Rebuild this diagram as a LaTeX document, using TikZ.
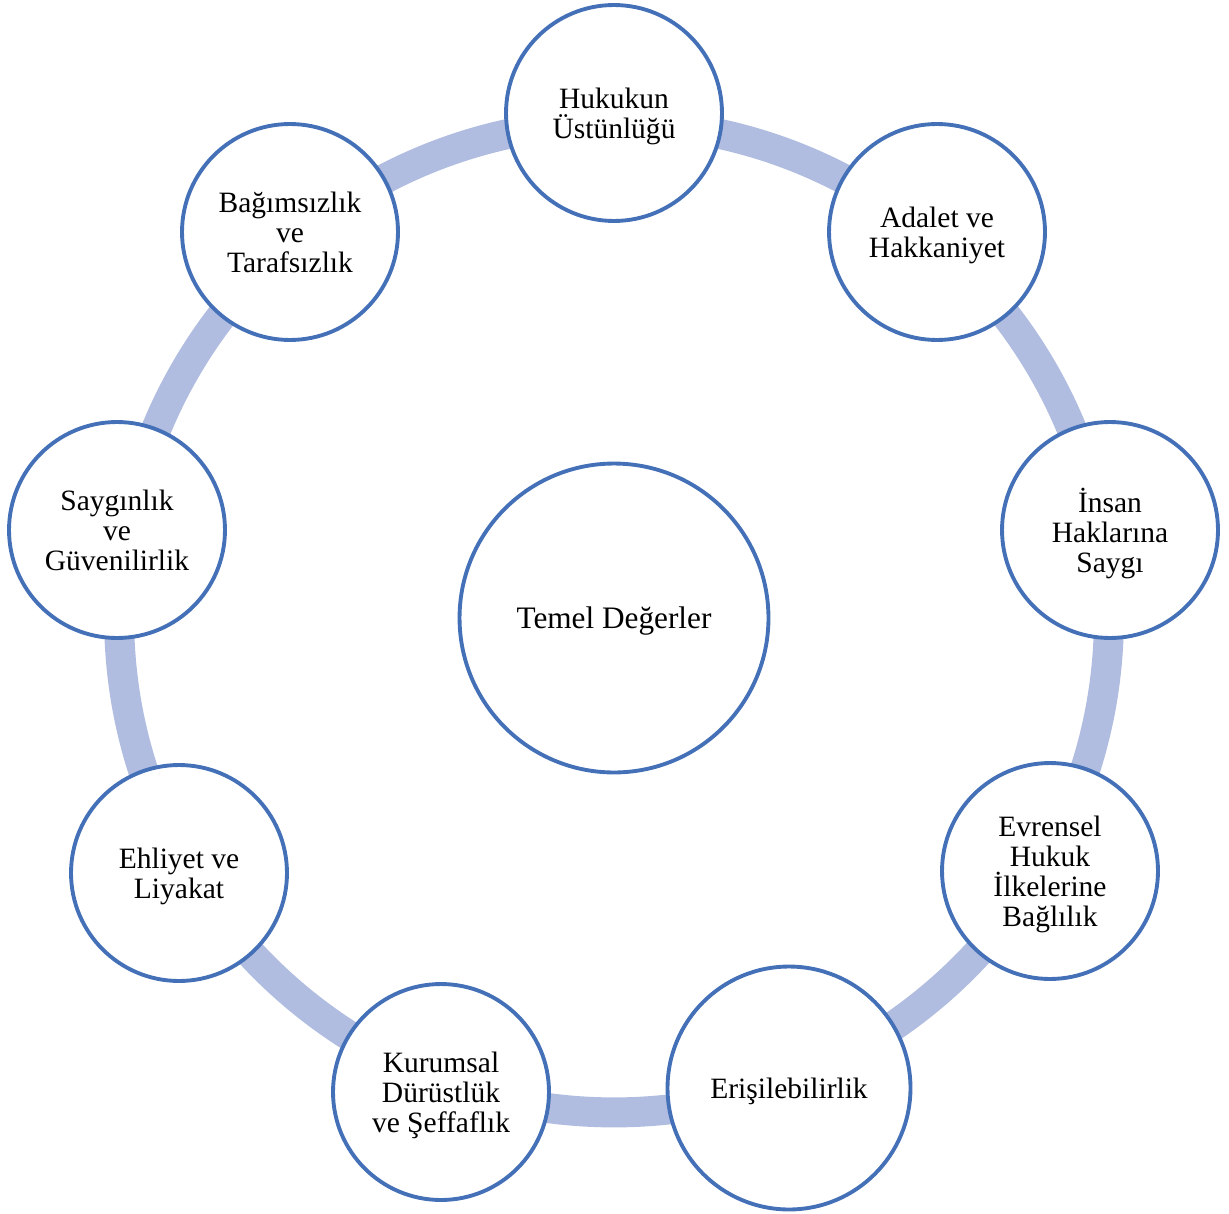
\documentclass[tikz,border=0pt]{standalone}
\usepackage{fontspec}
\setmainfont{Liberation Serif}
\usetikzlibrary{positioning}
\definecolor{ringblue}{HTML}{B0BDE0}
\definecolor{edgeblue}{HTML}{4470B8}

\begin{document}
\begin{tikzpicture}[x=0.02cm,y=-0.02cm,
  value/.style={circle,draw=edgeblue,line width=2.2pt,fill=white,minimum size=4.32cm,inner sep=0pt,text depth=0pt,align=center,font=\fontsize{16.8}{17}\selectfont},
  ring/.style={draw=ringblue,line width=0.6cm}]
 \useasboundingbox (0,0) rectangle (1229,1213);
 \coordinate (mid) at (614,617.5);
 \draw[ring] (mid) circle[radius=9.9cm];
 \node[value,minimum size=6.18cm,font=\fontsize{17.8}{18}\selectfont] (temel) at (614,618) {Temel Değerler};
 \node[value] (hukuk) at (614,113) {Hukukun\\Üstünlüğü};
 \node[value] (adalet) at (937,232) {Adalet ve\\Hakkaniyet};
 \node[value] (insan) at (1110,530) {İnsan\\Haklarına\\Saygı};
 \node[value] (evrensel) at (1050,871) {Evrensel\\Hukuk\\İlkelerine\\Bağlılık};
 \node[value,minimum size=4.86cm] (erisim) at (789,1088) {Erişilebilirlik};
 \node[value] (kurumsal) at (441,1092) {Kurumsal\\Dürüstlük\\ve Şeffaflık};
 \node[value] (ehliyet) at (179,873) {Ehliyet ve\\Liyakat};
 \node[value] (saygi) at (117,530) {Saygınlık\\ve\\Güvenilirlik};
 \node[value] (bagimsiz) at (290,232) {Bağımsızlık\\ve\\Tarafsızlık};
\end{tikzpicture}
\end{document}
